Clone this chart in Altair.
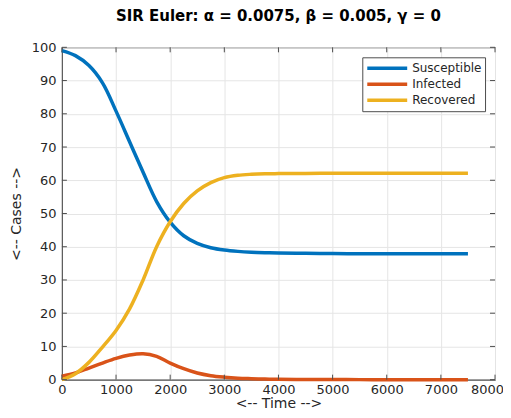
import altair as alt
import pandas as pd

times = [0, 250, 500, 750, 1000, 1250, 1500, 1750, 2000, 2250, 2500, 2750, 3000,
         3250, 3500, 3750, 4000, 4500, 5000, 5500, 6000, 6500, 7000, 7500]
susceptible = [99, 97.5, 94.5, 89.3, 80.8, 71.6, 62.4, 53.6, 47.4, 43.3, 41.0, 39.7, 39.0,
               38.6, 38.35, 38.2, 38.1, 38.0, 37.95, 37.9, 37.9, 37.9, 37.9, 37.9]
infected = [1.0, 2.0, 3.5, 5.0, 6.4, 7.4, 7.8, 7.0, 5.0, 3.3, 2.0, 1.2, 0.75,
            0.45, 0.3, 0.18, 0.1, 0.05, 0.02, 0.01, 0.0, 0.0, 0.0, 0.0]
recovered = [0.0, 1.8, 5.2, 9.8, 14.8, 21.3, 30.0, 40.0, 47.5, 53.0, 56.8, 59.3, 60.8,
             61.5, 61.8, 61.95, 62.0, 62.05, 62.1, 62.1, 62.1, 62.1, 62.1, 62.1]

series_names = ["Susceptible", "Infected", "Recovered"]
series_colors = ["#0072BD", "#D95319", "#EDB120"]
x_ticks = [0, 1000, 2000, 3000, 4000, 5000, 6000, 7000, 8000]
y_ticks = [0, 10, 20, 30, 40, 50, 60, 70, 80, 90, 100]

rows = []
for name, vals in zip(series_names, [susceptible, infected, recovered]):
    for t, v in zip(times, vals):
        rows.append({"Time": t, "Cases": v, "Series": name})
df = pd.DataFrame(rows)

W, H = 434, 333
FONT = "DejaVu Sans"
AX = "#4d4d4d"
TXT = "#262626"

x_scale = alt.Scale(domain=[0, 8000], nice=False)
y_scale = alt.Scale(domain=[0, 100], nice=False)

x_axis = alt.Axis(values=x_ticks, format="d", title="<-- Time -->",
                  grid=True, ticks=False, labelPadding=4, titlePadding=0,
                  labelOverlap=False, labelFlush=False,
                  labelOffset={"condition": {"test": "datum.value == 8000", "value": -8},
                               "value": 0})
y_axis = alt.Axis(values=y_ticks, format="d", title="<-- Cases -->",
                  grid=True, ticks=False, labelPadding=6, titlePadding=8,
                  labelOverlap=False, labelFlush=False)

lines = alt.Chart(df).mark_line(strokeWidth=3.5, interpolate="catmull-rom").encode(
    x=alt.X("Time:Q", scale=x_scale, axis=x_axis),
    y=alt.Y("Cases:Q", scale=y_scale, axis=y_axis),
    color=alt.Color("Series:N",
                    scale=alt.Scale(domain=series_names, range=series_colors),
                    sort=series_names,
                    legend=alt.Legend(title=None, orient="none", legendX=301, legendY=10,
                                      symbolType="stroke", symbolSize=1600,
                                      symbolStrokeWidth=3.5, clipHeight=16,
                                      labelFontSize=12, labelFont=FONT, labelColor=TXT,
                                      fillColor="white", strokeColor=AX,
                                      padding=3, rowPadding=0, labelOffset=3)),
)

xt = pd.DataFrame({"t": x_ticks})
yt = pd.DataFrame({"v": y_ticks})
tick_bottom = alt.Chart(xt).mark_rule(color=AX, strokeWidth=1).encode(
    x=alt.X("t:Q", scale=x_scale, axis=x_axis), y=alt.value(H), y2=alt.value(H - 5))
tick_top = alt.Chart(xt).mark_rule(color=AX, strokeWidth=1).encode(
    x=alt.X("t:Q", scale=x_scale, axis=x_axis), y=alt.value(0), y2=alt.value(5))
tick_left = alt.Chart(yt).mark_rule(color=AX, strokeWidth=1).encode(
    y=alt.Y("v:Q", scale=y_scale, axis=y_axis), x=alt.value(0), x2=alt.value(5))
tick_right = alt.Chart(yt).mark_rule(color=AX, strokeWidth=1).encode(
    y=alt.Y("v:Q", scale=y_scale, axis=y_axis), x=alt.value(W), x2=alt.value(W - 5))

chart = alt.layer(lines, tick_bottom, tick_top, tick_left, tick_right).properties(
    width=W, height=H,
    title=alt.TitleParams("SIR Euler: α = 0.0075, β = 0.005, γ = 0",
                          font=FONT, fontSize=15, fontWeight="bold", color="black",
                          anchor="middle", offset=17),
    autosize=alt.AutoSizeParams(type="none"),
    padding={"left": 54, "top": 39, "right": 8, "bottom": 30},
).configure_view(stroke=AX, strokeWidth=1).configure_axis(
    domainColor=AX, gridColor="#e5e5e5", gridWidth=1,
    labelFont=FONT, labelFontSize=13, labelColor=TXT,
    titleFont=FONT, titleFontSize=14, titleFontWeight="normal", titleColor=TXT,
)

chart.save("out.html", embed_options={"renderer": "svg", "actions": False})
